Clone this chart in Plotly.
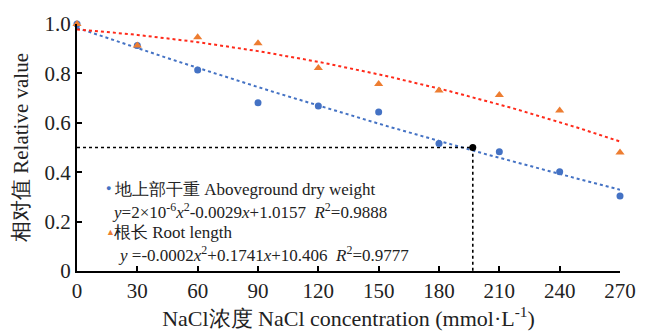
import numpy as np
import plotly.graph_objects as go

nacl = [0, 30, 60, 90, 120, 150, 180, 210, 240, 270]
dry_weight = [1.0, 0.913, 0.814, 0.681, 0.668, 0.644, 0.516, 0.483, 0.402, 0.304]
root_length = [1.0, 0.913, 0.946, 0.922, 0.822, 0.757, 0.731, 0.713, 0.650, 0.480]
half_x = [0, 196.8, 196.8]
half_y = [0.5, 0.5, 0]
x_ticks = [0, 30, 60, 90, 120, 150, 180, 210, 240, 270]
y_ticks = [0, 0.2, 0.4, 0.6, 0.8, 1.0]
y_ticktext = ["0", "0.2", "0.4", "0.6", "0.8", "1.0"]

BLUE = "#4472C4"
ORANGE = "#ED7D31"
RED = "#FF2A1A"
FONT = "Liberation Serif"

xs = np.linspace(0, 270, 100)
fit_b = np.polyval(np.polyfit(nacl, dry_weight, 2), xs)
fit_r = np.polyval(np.polyfit(nacl, root_length, 2), xs)

fig = go.Figure()
fig.add_trace(go.Scatter(x=xs, y=fit_b, mode="lines", line=dict(color=BLUE, width=2, dash="dot"), hoverinfo="skip"))
fig.add_trace(go.Scatter(x=xs, y=fit_r, mode="lines", line=dict(color=RED, width=2, dash="dot"), hoverinfo="skip"))
fig.add_trace(go.Scatter(x=half_x, y=half_y, mode="lines", line=dict(color="black", width=1.6, dash="dot")))
fig.add_trace(go.Scatter(x=nacl, y=dry_weight, mode="markers", marker=dict(color=BLUE, size=7, symbol="circle"), cliponaxis=False))
fig.add_trace(go.Scatter(x=nacl, y=root_length, mode="markers", marker=dict(color=ORANGE, size=8, symbol="triangle-up"), cliponaxis=False))
fig.add_trace(go.Scatter(x=[half_x[1]], y=[half_y[0]], mode="markers", marker=dict(color="black", size=7), cliponaxis=False))

fig.update_layout(
    width=655, height=334,
    margin=dict(l=77, r=35, t=17, b=63),
    paper_bgcolor="white", plot_bgcolor="white",
    showlegend=False,
    font=dict(family=FONT, color="#222"),
    xaxis=dict(range=[0, 270], tickvals=x_ticks, ticks="inside", ticklen=5, tickwidth=1.5,
               tickcolor="black", showline=True, linecolor="black", linewidth=2, showgrid=False,
               zeroline=False, tickfont=dict(size=21, family=FONT),
               title=dict(text="NaCl浓度 NaCl concentration (mmol·L<sup>-1</sup>)", font=dict(size=22, family=FONT), standoff=1)),
    yaxis=dict(range=[0, 1.0], tickvals=y_ticks, ticktext=y_ticktext, ticks="inside", ticklen=5, tickwidth=1.5,
               tickcolor="black", showline=True, linecolor="black", linewidth=2, showgrid=False,
               zeroline=False, tickfont=dict(size=21, family=FONT),
               title=dict(text="相对值 Relative value", font=dict(size=21, family=FONT), standoff=10)),
)

ann_font = dict(size=17, family=FONT, color="#222")
lines = [
    (104, 186, "<span style='color:%s'>●</span>" % BLUE, 9),
    (112, 187, "地上部干重 Aboveground dry weight", 17),
    (110, 209, "<i>y</i>=2×10<sup>-6</sup><i>x</i><sup>2</sup>-0.0029<i>x</i>+1.0157  <i>R</i><sup>2</sup>=0.9888", 17),
    (104, 231, "<span style='color:%s'>▲</span>" % ORANGE, 9),
    (112, 231, "根长 Root length", 17),
    (116, 254, "<i>y</i> =-0.0002<i>x</i><sup>2</sup>+0.1741<i>x</i>+10.406  <i>R</i><sup>2</sup>=0.9777", 17),
]
plot_w = 655 - 77 - 35
plot_h = 334 - 17 - 63
for x, y, t, s in lines:
    fig.add_annotation(x=(x - 77) / plot_w, y=1 - (y - 17) / plot_h, xref="paper", yref="paper",
                       text=t, showarrow=False, xanchor="left", yanchor="middle",
                       font=dict(ann_font, size=s))

fig.write_html("out.html")
